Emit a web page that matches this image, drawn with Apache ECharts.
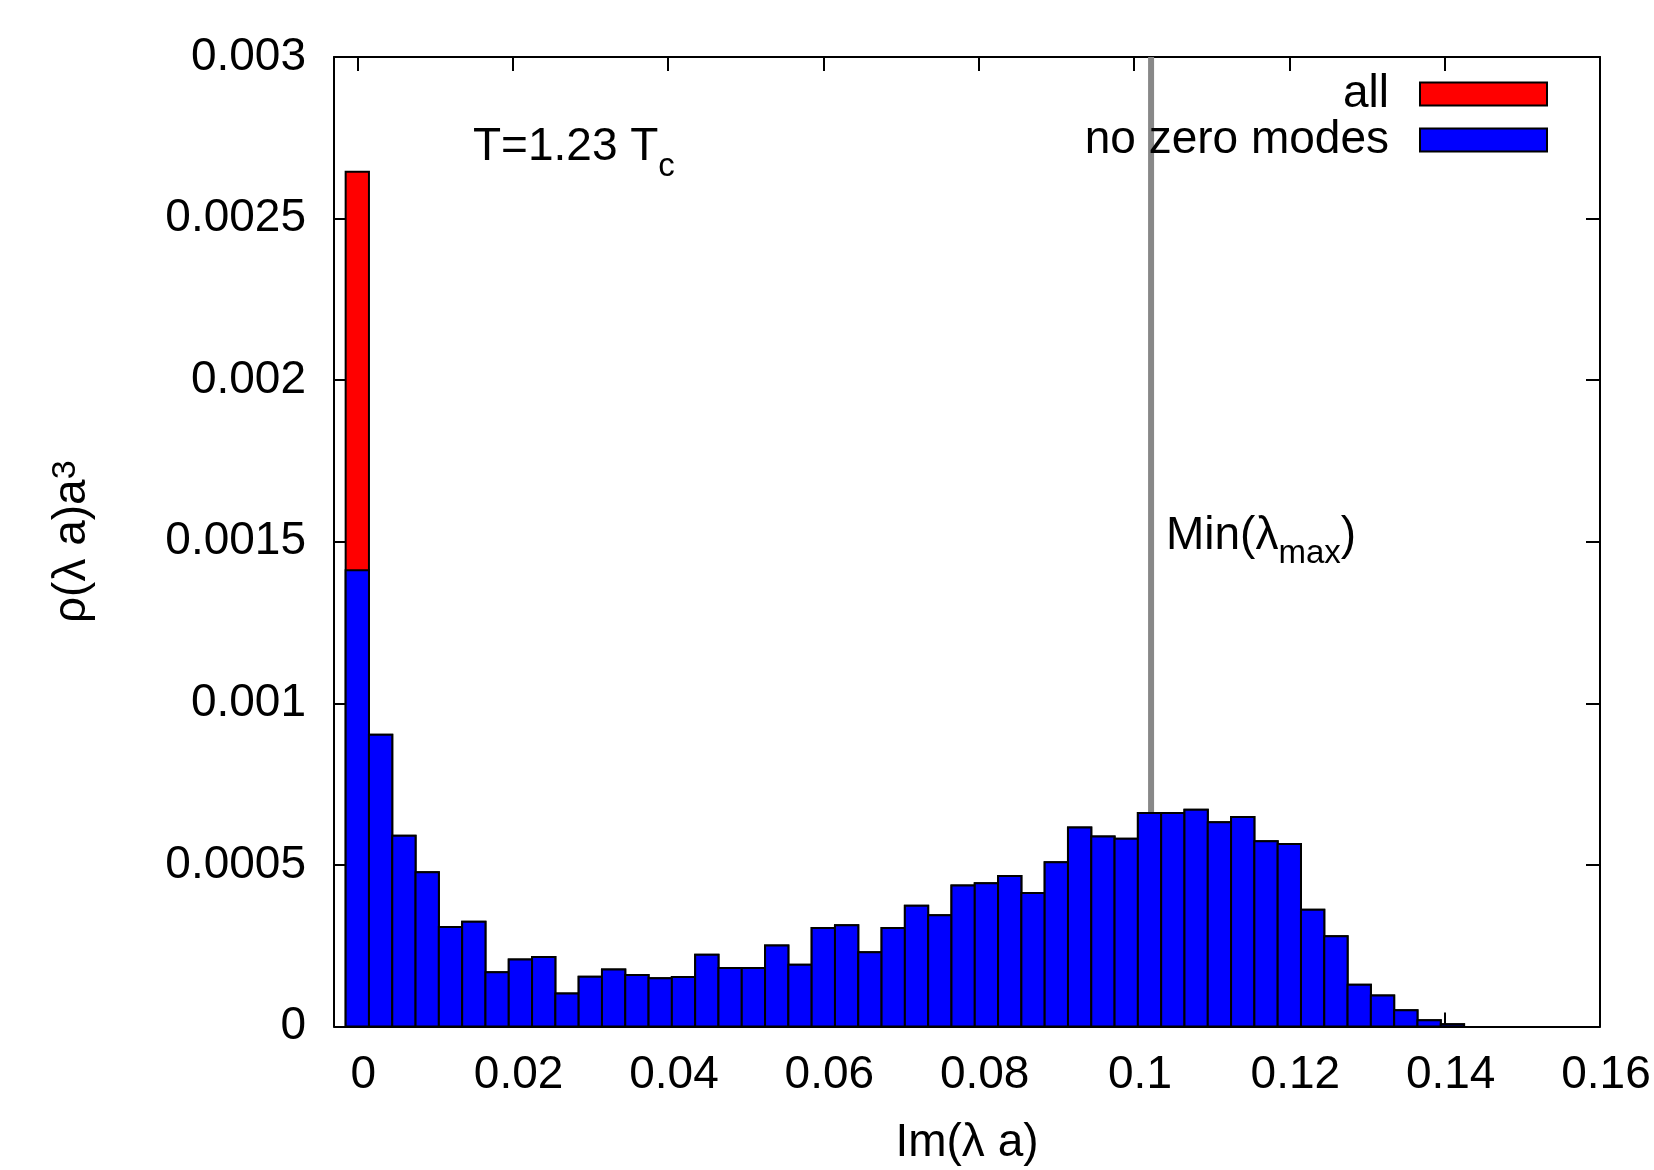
<!DOCTYPE html>
<html>
<head>
<meta charset="utf-8">
<script src="https://cdn.jsdelivr.net/npm/echarts@6/dist/echarts.min.js"></script>
<style>
html,body{margin:0;padding:0;background:#fff;}
#chart{width:1654px;height:1170px;}
</style>
</head>
<body>
<div id="chart"></div>
<script>
// ---- data ----
const binWidth = 0.003;
const binCenters = [0, 0.003, 0.006, 0.009, 0.012, 0.015, 0.018, 0.021, 0.024, 0.027,
  0.030, 0.033, 0.036, 0.039, 0.042, 0.045, 0.048, 0.051, 0.054, 0.057,
  0.060, 0.063, 0.066, 0.069, 0.072, 0.075, 0.078, 0.081, 0.084, 0.087,
  0.090, 0.093, 0.096, 0.099, 0.102, 0.105, 0.108, 0.111, 0.114, 0.117,
  0.120, 0.123, 0.126, 0.129, 0.132, 0.135, 0.138, 0.141];
const noZeroModes = [0.001412, 0.000903, 0.000590, 0.000477, 0.000308, 0.000324, 0.000168, 0.000207, 0.000215, 0.000102,
  0.000154, 0.000176, 0.000159, 0.000149, 0.000153, 0.000222, 0.000181, 0.000181, 0.000251, 0.000191,
  0.000305, 0.000313, 0.000230, 0.000305, 0.000374, 0.000344, 0.000436, 0.000443, 0.000466, 0.000413,
  0.000508, 0.000616, 0.000588, 0.000581, 0.000661, 0.000661, 0.000671, 0.000632, 0.000648, 0.000573,
  0.000565, 0.000361, 0.000279, 0.000129, 0.000096, 0.000050, 0.000019, 0.000007];
const allModes = [0.002645, 0.000903, 0.000590, 0.000477, 0.000308, 0.000324, 0.000168, 0.000207, 0.000215, 0.000102,
  0.000154, 0.000176, 0.000159, 0.000149, 0.000153, 0.000222, 0.000181, 0.000181, 0.000251, 0.000191,
  0.000305, 0.000313, 0.000230, 0.000305, 0.000374, 0.000344, 0.000436, 0.000443, 0.000466, 0.000413,
  0.000508, 0.000616, 0.000588, 0.000581, 0.000661, 0.000661, 0.000671, 0.000632, 0.000648, 0.000573,
  0.000565, 0.000361, 0.000279, 0.000129, 0.000096, 0.000050, 0.000019, 0.000007];
const xTicks = [0, 0.02, 0.04, 0.06, 0.08, 0.1, 0.12, 0.14, 0.16];
const xRange = [-0.003, 0.16];
const yRange = [0, 0.003];
const yStep = 0.0005;
const minLambdaMax = 0.1022;

// ---- chart ----
const FONT = 'Liberation Sans';
const FS = 46;
const SUBFS = 33;
const chart = echarts.init(document.getElementById('chart'), null, {renderer: 'canvas'});

function histSeries(name, values, color, z) {
  return {
    name: name,
    type: 'custom',
    z: z,
    itemStyle: {color: color},
    encode: {x: 0, y: 1},
    data: binCenters.map((c, i) => [c, values[i]]),
    renderItem: function (params, api) {
      const c = api.value(0), v = api.value(1);
      const p0 = api.coord([c - binWidth / 2, v]);
      const p1 = api.coord([c + binWidth / 2, 0]);
      return {
        type: 'rect',
        shape: {x: p0[0], y: p0[1], width: p1[0] - p0[0], height: p1[1] - p0[1]},
        style: {fill: color, stroke: '#000', lineWidth: 2}
      };
    }
  };
}

const fmt = v => String(parseFloat(v.toFixed(6)));

// text measuring for sub-scripted annotations
const mctx = document.createElement('canvas').getContext('2d');
function textW(t, fs) { mctx.font = fs + 'px "' + FONT + '"'; return mctx.measureText(t).width; }
function subText(pieces, x, baseline, subDrop) {
  const els = [];
  let cx = x;
  pieces.forEach(p => {
    const fs = p[1] ? SUBFS : FS;
    const bl = p[1] ? baseline + subDrop : baseline;
    els.push({
      type: 'text', z: 10, silent: true,
      style: {
        text: p[0], x: cx, y: bl - 0.347 * fs,
        font: fs + 'px "' + FONT + '"', fill: '#000',
        align: 'left', verticalAlign: 'middle', textAlign: 'left', textVerticalAlign: 'middle'
      }
    });
    cx += textW(p[0], fs);
  });
  return els;
}

const option = {
  backgroundColor: '#fff',
  animation: false,
  textStyle: {fontFamily: FONT},
  grid: {left: 334, top: 57, width: 1266, height: 969.5, containLabel: false, outerBoundsMode: 'none'},
  legend: {
    orient: 'vertical',
    right: 106,
    top: 71,
    padding: 0,
    itemGap: 0,
    align: 'right',
    itemWidth: 127,
    itemHeight: 23,
    selectedMode: false,
    textStyle: {fontSize: FS, fontFamily: FONT, color: '#000', lineHeight: 46, padding: [0, 26, 0, 0]},
    data: [
      {name: 'all', icon: 'rect', itemStyle: {color: '#ff0000', borderColor: '#000', borderWidth: 2}},
      {name: 'no zero modes', icon: 'rect', itemStyle: {color: '#0000ff', borderColor: '#000', borderWidth: 2}}
    ]
  },
  xAxis: [{
    type: 'value', position: 'bottom', min: xRange[0], max: xRange[1],
    axisLine: {show: true, onZero: false, lineStyle: {color: '#000', width: 2}},
    axisTick: {show: true, inside: true, length: 14, customValues: xTicks, lineStyle: {color: '#000', width: 2}},
    axisLabel: {show: true, customValues: xTicks, formatter: fmt, fontSize: FS, fontFamily: FONT, color: '#000', margin: 26, padding: [0, 0, 0, 12]},
    splitLine: {show: false},
    name: 'Im(λ a)', nameLocation: 'middle', nameGap: 94,
    nameTextStyle: {fontSize: FS, fontFamily: FONT, color: '#000'}
  }, {
    type: 'value', position: 'top', min: xRange[0], max: xRange[1],
    axisLine: {show: true, onZero: false, lineStyle: {color: '#000', width: 2}},
    axisTick: {show: true, inside: true, length: 14, customValues: xTicks, lineStyle: {color: '#000', width: 2}},
    axisLabel: {show: false},
    splitLine: {show: false}
  }],
  yAxis: [{
    type: 'value', position: 'left', min: yRange[0], max: yRange[1], interval: yStep,
    axisLine: {show: true, onZero: false, lineStyle: {color: '#000', width: 2}},
    axisTick: {show: true, inside: true, length: 14, lineStyle: {color: '#000', width: 2}},
    axisLabel: {formatter: fmt, fontSize: FS, fontFamily: FONT, color: '#000', margin: 28},
    splitLine: {show: false},
    name: '{a|ρ(λ a)a}{s|3}', nameLocation: 'middle', nameRotate: 90, nameGap: 239,
    nameTextStyle: {
      color: '#000', fontFamily: FONT,
      rich: {
        a: {fontSize: FS, fontFamily: FONT, color: '#000', lineHeight: 46},
        s: {fontSize: 34, fontFamily: FONT, color: '#000', verticalAlign: 'top', lineHeight: 34}
      }
    }
  }, {
    type: 'value', position: 'right', min: yRange[0], max: yRange[1], interval: yStep,
    axisLine: {show: true, onZero: false, lineStyle: {color: '#000', width: 2}},
    axisTick: {show: true, inside: true, length: 14, lineStyle: {color: '#000', width: 2}},
    axisLabel: {show: false},
    splitLine: {show: false}
  }],
  series: [
    {
      name: 'Min(λmax) line', type: 'line', z: 1, silent: true, symbol: 'none',
      lineStyle: {color: '#888888', width: 6},
      data: [[minLambdaMax, yRange[0]], [minLambdaMax, yRange[1]]]
    },
    histSeries('all', allModes, '#ff0000', 2),
    histSeries('no zero modes', noZeroModes, '#0000ff', 3)
  ],
  graphic: [].concat(
    subText([['T=1.23 T', false], ['c', true]], 473, 163, 15),
    subText([['Min(λ', false], ['max', true], [')', false]], 1166, 552, 13)
  )
};
chart.setOption(option);
</script>
</body>
</html>
